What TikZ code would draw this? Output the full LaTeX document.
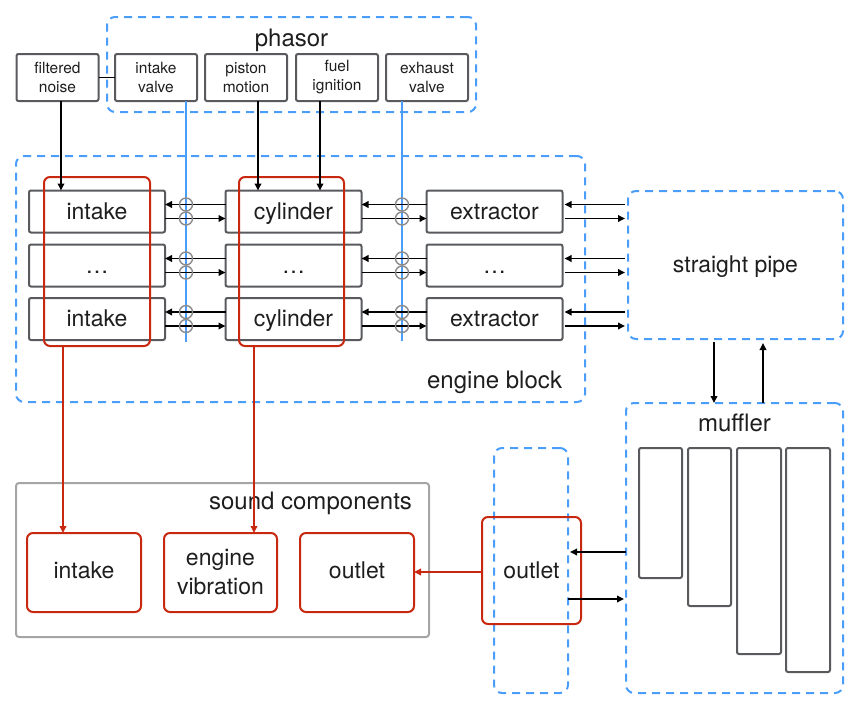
\documentclass[tikz,border=0pt]{standalone}
\usepackage{fontspec}
\setmainfont{TeX Gyre Heros}
\usetikzlibrary{arrows.meta}
\definecolor{dblue}{RGB}{74,158,250}
\definecolor{dred}{RGB}{200,40,16}
\definecolor{bgray}{RGB}{88,90,94}
\definecolor{lgray}{RGB}{165,165,165}
\definecolor{cgray}{RGB}{140,140,140}
\definecolor{txt}{RGB}{30,30,30}
\begin{document}
\begin{tikzpicture}[x=1pt,y=-1pt,
  every node/.style={inner sep=0pt, outer sep=0pt, text=txt},
  bigtxt/.style={font=\fontsize{23}{29}\selectfont, text height=16pt, text depth=1pt},
  sndtxt/.style={font=\fontsize{23}{29}\selectfont, text height=16pt, text depth=5pt},
  hdr/.style={font=\fontsize{24}{29}\selectfont, text height=17pt, text depth=5pt},
  box/.style={draw=bgray, line width=2pt, rounded corners=2pt, minimum height=42pt, minimum width=136pt, bigtxt},
  small/.style={draw=bgray, line width=2pt, rounded corners=2pt, minimum height=47pt, minimum width=82pt, font=\fontsize{15.5}{19}\selectfont, align=center},
  dbox/.style={draw=dblue, line width=2pt, dash pattern=on 8pt off 6pt, rounded corners=8pt},
  rbox/.style={draw=dred, line width=2pt, rounded corners=6pt},
  mbox/.style={draw=bgray, line width=2pt, rounded corners=2pt},
  arr/.style={-{Triangle[length=7pt,width=6.5pt]}, line width=1.8pt, draw=black},
  rarr/.style={-{Triangle[length=7pt,width=6.5pt]}, line width=1.8pt, draw=dred},
  bline/.style={draw=dblue, line width=1.4pt},
  circ/.style={circle, draw=cgray, line width=1.4pt, minimum size=13pt}
]
\useasboundingbox (0,0) rectangle (855,704);

% phasor group
\node[dbox, minimum width=369pt, minimum height=95pt] (ph) at (291.5,64.5) {};
\node[hdr] (phl) at (291.5,40) {phasor};
\node[small] (fn) at (57.5,77.5) {filtered\\noise};
\node[small] (iv) at (156,77.5) {intake\\valve};
\node[small] (pm) at (246,77.5) {piston\\motion};
\node[small] (fi) at (337,77.5) {fuel\\ignition};
\node[small] (ev) at (427,77.5) {exhaust\\valve};

% engine block
\node[dbox, minimum width=569pt, minimum height=246pt] (eb) at (300.5,279) {};
\node[hdr, anchor=east] (ebl) at (562,382) {engine block};

\node[box] (i1) at (97,211.5) {intake};
\node[box] (i2) at (97,265.5) {\dots};
\node[box] (i3) at (97,319) {intake};
\node[box] (c1) at (293.5,211.5) {cylinder};
\node[box] (c2) at (293.5,265.5) {\dots};
\node[box] (c3) at (293.5,319) {cylinder};
\node[box] (e1) at (494.5,211.5) {extractor};
\node[box] (e2) at (494.5,265.5) {\dots};
\node[box] (e3) at (494.5,319) {extractor};

\node[rbox, minimum width=106pt, minimum height=169pt] (ri) at (97,261.5) {};
\node[rbox, minimum width=105pt, minimum height=169pt] (rc) at (291.5,261.5) {};

% straight pipe and muffler
\node[dbox, minimum width=215pt, minimum height=148pt, bigtxt] (sp) at (735.5,265) {straight pipe};
\node[dbox, minimum width=217pt, minimum height=290pt] (mf) at (734.5,548) {};
\node[hdr] (mfl) at (734.5,425) {muffler};
\node[mbox, minimum width=43pt, minimum height=130pt] (m1) at (660.5,513) {};
\node[mbox, minimum width=43pt, minimum height=158pt] (m2) at (709.5,527) {};
\node[mbox, minimum width=44pt, minimum height=206pt] (m3) at (759,551) {};
\node[mbox, minimum width=44pt, minimum height=224pt] (m4) at (808,560) {};

% outlet
\node[dbox, minimum width=74pt, minimum height=245pt] (od) at (531,570.5) {};
\node[rbox, minimum width=99pt, minimum height=107pt, bigtxt] (ro) at (531.5,570.5) {outlet};

% sound components
\node[draw=lgray, line width=2pt, rounded corners=3pt, minimum width=413pt, minimum height=154pt] (sc) at (222.5,560) {};
\node[hdr, anchor=east] (scl) at (412,503) {sound components};
\node[rbox, minimum width=114pt, minimum height=79pt, sndtxt] (si) at (84,572.5) {intake};
\node[rbox, minimum width=113pt, minimum height=79pt, font=\fontsize{23}{29}\selectfont, align=center] (sv) at (220.5,572.5) {engine\\vibration};
\node[rbox, minimum width=114pt, minimum height=79pt, sndtxt] (so) at (357,572.5) {outlet};

% helper coordinates
\coordinate (xn) at (61,0);
\coordinate (xp) at (258,0);
\coordinate (xf) at (320,0);
\coordinate (xi) at (186,0);
\coordinate (xe) at (402,0);
\coordinate (ivEnd) at (186,342);
\coordinate (evEnd) at (402,341);
\coordinate (xd) at (714,0);
\coordinate (xu) at (763,0);
\coordinate (xri) at (63,0);
\coordinate (xrc) at (254,0);
\coordinate (yo1) at (0,552);
\coordinate (yo2) at (0,599);
\coordinate (yro) at (0,572);

% valve lines
\draw[bline] (iv.south -| xi) -- (ivEnd);
\draw[bline] (ev.south -| xe) -- (evEnd);

% top connections
\draw[line width=1.8pt] (fn.east) -- (iv.west);
\draw[arr] (fn.south -| xn) -- (i1.north -| xn);
\draw[arr] (pm.south -| xp) -- (c1.north -| xp);
\draw[arr] (fi.south -| xf) -- (c1.north -| xf);

% row arrows
\foreach \r in {1,2,3}{
  \draw[arr] ([yshift=7pt]c\r.west) -- ([yshift=7pt]i\r.east);
  \draw[arr] ([yshift=-7pt]i\r.east) -- ([yshift=-7pt]c\r.west);
  \draw[arr] ([yshift=7pt]e\r.west) -- ([yshift=7pt]c\r.east);
  \draw[arr] ([yshift=-7pt]c\r.east) -- ([yshift=-7pt]e\r.west);
  \path ([yshift=7pt]e\r.east) coordinate (et\r);
  \path ([yshift=-7pt]e\r.east) coordinate (eb\r);
  \draw[arr] ([xshift=-3pt]sp.west |- et\r) -- ([xshift=2pt]et\r);
  \draw[arr] ([xshift=2pt]eb\r) -- ([xshift=-3pt]sp.west |- eb\r);
  \node[circ] (ci\r a) at ([yshift=7pt]c\r.west -| xi) {};
  \node[circ] (ci\r b) at ([yshift=-7pt]c\r.west -| xi) {};
  \node[circ] (ce\r a) at ([yshift=7pt]e\r.west -| xe) {};
  \node[circ] (ce\r b) at ([yshift=-7pt]e\r.west -| xe) {};
}

% pipe <-> muffler
\draw[arr] ([yshift=-3pt]sp.south -| xd) -- (mf.north -| xd);
\draw[arr] (mf.north -| xu) -- ([yshift=-4pt]sp.south -| xu);

% muffler <-> outlet
\draw[arr] (mf.west |- yo1) -- ([xshift=2pt]od.east |- yo1);
\draw[arr] (od.east |- yo2) -- ([xshift=-2pt]mf.west |- yo2);

% red arrows
\draw[rarr] (ro.west |- yro) -- (so.east |- yro);
\draw[rarr] (ri.south -| xri) -- (si.north -| xri);
\draw[rarr] (rc.south -| xrc) -- (sv.north -| xrc);
\end{tikzpicture}
\end{document}
